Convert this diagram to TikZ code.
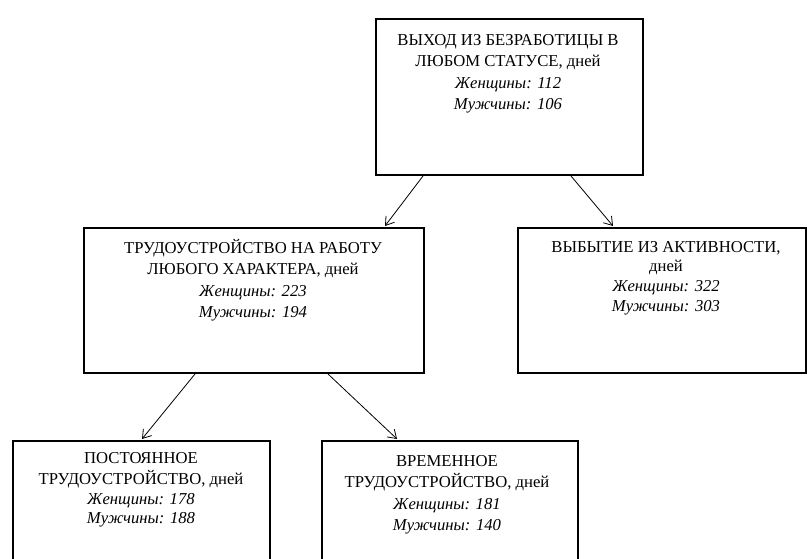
\documentclass[tikz,border=0pt]{standalone}
\usepackage{fontspec}
\setmainfont{Liberation Serif}
\usetikzlibrary{calc,arrows.meta}
\begin{document}
\begin{tikzpicture}[x=0.75pt,y=-0.75pt,
  boxnode/.style={draw,line width=1.5pt,inner sep=0pt,anchor=north west},
  txtA/.style={inner sep=0pt,anchor=north,align=center,font=\fontsize{12.5}{16.1}\selectfont},
  txtB/.style={inner sep=0pt,anchor=north,align=center,font=\fontsize{12.5}{14.8}\selectfont},
  arr/.style={line width=0.6pt,-{Straight Barb[length=6pt,width=8pt]}}]
\useasboundingbox (0,0) rectangle (807,559);
\clip (0,0) rectangle (807,559);
\fill[white] (0,0) rectangle (807,559);
% boxes
\node[boxnode,minimum width=200.25pt,minimum height=117pt] (a) at (375,18) {};
\node[boxnode,minimum width=255pt,minimum height=108.75pt] (b) at (83,227) {};
\node[boxnode,minimum width=216pt,minimum height=108.75pt] (c) at (517,227) {};
\node[boxnode,minimum width=192.75pt,minimum height=120pt] (d) at (12,440) {};
\node[boxnode,minimum width=192pt,minimum height=120pt] (e) at (321,440) {};
% texts
\node[txtA] (at) at (508,30) {\strut ВЫХОД ИЗ БЕЗРАБОТИЦЫ В\\ЛЮБОМ СТАТУСЕ, дней\\\textit{Женщины: 112}\\\textit{Мужчины: 106}};
\node[txtA] (bt) at (253,238) {\strut ТРУДОУСТРОЙСТВО НА РАБОТУ\\ЛЮБОГО ХАРАКТЕРА, дней\\\textit{Женщины: 223}\\\textit{Мужчины: 194}};
\node[txtB] (ct) at (666,238) {\strut ВЫБЫТИЕ ИЗ АКТИВНОСТИ,\\дней\\\textit{Женщины: 322}\\\textit{Мужчины: 303}};
\node[txtB] (dt) at (141,449) {\strut ПОСТОЯННОЕ\\ТРУДОУСТРОЙСТВО, дней\\\textit{Женщины: 178}\\\textit{Мужчины: 188}};
\node[txtA] (et) at (447,451) {\strut ВРЕМЕННОЕ\\ТРУДОУСТРОЙСТВО, дней\\\textit{Женщины: 181}\\\textit{Мужчины: 140}};
% arrows
\draw[arr] ($(a.south west)+(48,0)$) -- ($(b.north west)+(302,-1)$);
\draw[arr] ($(a.south west)+(196,0)$) -- ($(c.north west)+(96,-1)$);
\draw[arr] ($(b.south west)+(112,0)$) -- ($(d.north west)+(130,-1)$);
\draw[arr] ($(b.south west)+(245,0)$) -- ($(e.north west)+(76,-1)$);
\end{tikzpicture}
\end{document}
